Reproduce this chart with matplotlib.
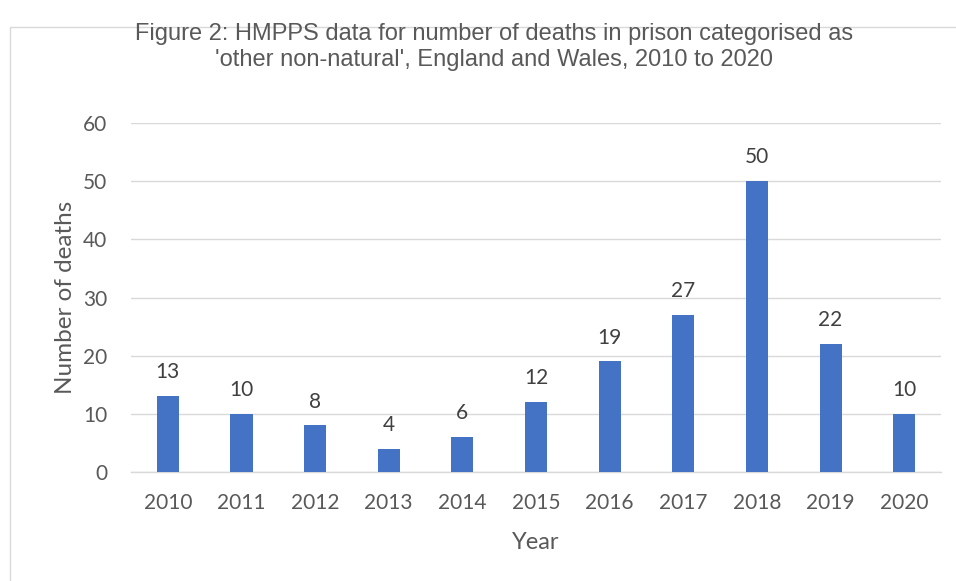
import matplotlib
matplotlib.use("Agg")
import matplotlib.pyplot as plt
from matplotlib.patches import Rectangle

years = ["2010", "2011", "2012", "2013", "2014", "2015", "2016", "2017", "2018", "2019", "2020"]
deaths = [13, 10, 8, 4, 6, 12, 19, 27, 50, 22, 10]
yticks = [0, 10, 20, 30, 40, 50, 60]

title = "Figure 2: HMPPS data for number of deaths in prison categorised as\n'other non-natural', England and Wales, 2010 to 2020"

fig = plt.figure(figsize=(9.56, 5.81), dpi=100)
fig.patch.set_facecolor("white")
# chart border (only top and left visible in reference)
fig.patches.append(Rectangle((10/956, -0.2), 1.2, 1.2 - 27/581, transform=fig.transFigure,
                             fill=False, edgecolor="#d9d9d9", linewidth=1.0))

ax = fig.add_axes([131/956, 1 - 472/581, 810/956, (472 - 123)/581])
x = list(range(len(years)))
ax.bar(x, deaths, width=0.3, color="#4472c4", zorder=3)
ax.set_xlim(-0.5, len(years) - 0.5)
ax.set_ylim(0, 60)
ax.set_yticks(yticks)
ax.set_xticks(x)
ax.set_xticklabels(years)
ax.grid(axis="y", color="#d9d9d9", linewidth=1.0, zorder=0)
for s in ["top", "right", "left"]:
    ax.spines[s].set_visible(False)
ax.spines["bottom"].set_color("#d9d9d9")
ax.spines["bottom"].set_linewidth(1.0)
ax.tick_params(axis="both", length=0, labelsize=15, colors="#595959", labelfontfamily="Lato")
ax.tick_params(axis="y", pad=17)
ax.tick_params(axis="x", pad=15)

for xi, v in zip(x, deaths):
    ax.annotate(str(v), (xi, v), xytext=(0, 10), textcoords="offset points",
                ha="center", va="bottom", fontsize=15, color="#404040", family="Lato")

ax.set_ylabel("Number of deaths", fontsize=17.5, color="#595959", family="Lato", labelpad=5)
ax.set_xlabel("Year", fontsize=17, color="#595959", family="Lato", labelpad=14)

fig.text(494/956, 1 - 47/581, title, ha="center", va="center", fontsize=17,
         color="#595959", family="Liberation Sans", linespacing=1.25)

fig.savefig("out.png", dpi=100)
